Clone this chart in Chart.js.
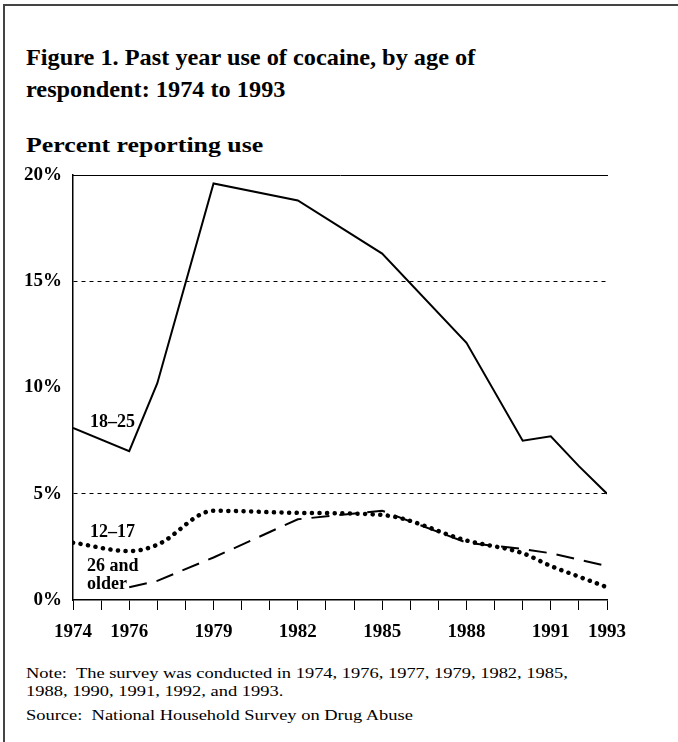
<!DOCTYPE html>
<html>
<head>
<meta charset="utf-8">
<script src="https://cdn.jsdelivr.net/npm/chart.js@4"></script>
<style>
  html, body { margin: 0; padding: 0; background: #fff; }
  body { width: 678px; height: 742px; position: relative; overflow: hidden; font-family: "Liberation Serif", "Times New Roman", serif; color: #000; }
  .frame { position: absolute; left: 3px; top: 4px; width: 690px; height: 750px; border-left: 2px solid #444; border-top: 2px solid #444; }
  .wide { transform-origin: 0 0; white-space: nowrap; }
  .title { position: absolute; left: 26px; top: 42px; font-size: 22.5px; font-weight: bold; line-height: 32px; transform: scaleX(1.08); }
  .subtitle { position: absolute; left: 26px; top: 133px; font-size: 21px; font-weight: bold; transform: scaleX(1.23); }
  .wrap { position: absolute; left: 0; top: 150px; width: 678px; height: 500px; }
  .tag { position: absolute; font-size: 18px; font-weight: bold; line-height: 17px; }
  .note { position: absolute; left: 26px; font-size: 15px; line-height: 18px; transform: scaleX(1.23); }
</style>
</head>
<body>
<div class="frame"></div>
<div class="title wide">Figure 1. Past year use of cocaine, by age of<br>respondent: 1974 to 1993</div>
<div class="subtitle wide">Percent reporting use</div>
<div class="wrap"><canvas id="chart"></canvas></div>
<div class="tag" style="left:90px; top:413px;">18–25</div>
<div class="tag" style="left:90px; top:523px;">12–17</div>
<div class="tag" style="left:87px; top:557px;">26 and</div>
<div class="tag" style="left:87px; top:575px;">older</div>
<div class="note wide" style="top:664px;">Note:&nbsp; The survey was conducted in 1974, 1976, 1977, 1979, 1982, 1985,<br>1988, 1990, 1991, 1992, and 1993.</div>
<div class="note wide" style="top:706px;">Source:&nbsp; National Household Survey on Drug Abuse</div>
<script>
// survey years and values (percent)
const years = [1974, 1976, 1977, 1979, 1982, 1985, 1988, 1990, 1991, 1992, 1993];
const age18to25 = [8.1, 7.0, 10.2, 19.6, 18.8, 16.3, 12.1, 7.5, 7.7, 6.3, 5.0];
const age12to17 = [2.7, 2.3, 2.6, 4.2, 4.1, 4.0, 2.8, 2.2, 1.6, 1.1, 0.6];
const olderYears = [1976, 1977, 1979, 1982, 1985, 1988, 1990, 1991, 1992, 1993];
const age26plus = [0.6, 0.9, 2.0, 3.8, 4.2, 2.7, 2.4, 2.2, 1.9, 1.6];
const labelledYears = [1974, 1976, 1979, 1982, 1985, 1988, 1991, 1993];
const dashedGrid = [5, 15];

function points(xs, ys) {
  return xs.map((x, i) => ({ x: x, y: ys[i] }));
}

const tickFont = { family: "Liberation Serif", size: 19, weight: "bold" };

new Chart(document.getElementById("chart"), {
  type: "line",
  data: {
    datasets: [
      {
        label: "18–25",
        data: points(years, age18to25),
        borderColor: "#000",
        borderWidth: 2,
        pointRadius: 0,
        tension: 0,
      },
      {
        label: "12–17",
        data: points(years, age12to17),
        borderColor: "#000",
        borderWidth: 4.5,
        borderDash: [0.1, 7.5],
        borderCapStyle: "round",
        pointRadius: 0,
        cubicInterpolationMode: "monotone",
      },
      {
        label: "26 and older",
        data: points(olderYears, age26plus),
        borderColor: "#000",
        borderWidth: 2,
        borderDash: [18, 10],
        pointRadius: 0,
        tension: 0,
      },
    ],
  },
  options: {
    responsive: true,
    maintainAspectRatio: false,
    animation: false,
    layout: { padding: { left: 0, right: 71, top: 25, bottom: 0 } },
    plugins: { legend: { display: false }, tooltip: { enabled: false } },
    scales: {
      x: {
        type: "linear",
        min: 1974,
        max: 1993,
        afterFit: (scale) => { scale.height = 50; },
        ticks: {
          stepSize: 1,
          autoSkip: false,
          maxRotation: 0,
          padding: 11,
          color: "#000",
          font: tickFont,
          callback: (value) => (labelledYears.includes(value) ? String(value) : ""),
        },
        grid: { drawOnChartArea: false, drawTicks: true, tickLength: 10, tickColor: "#000", tickWidth: 1 },
        border: { display: true, color: "#000", width: 1.5 },
      },
      x2: {
        type: "linear",
        position: "top",
        min: 1974,
        max: 1993,
        afterFit: (scale) => { scale.height = 0; },
        ticks: { display: false },
        grid: { display: false, drawTicks: false },
        border: { display: true, color: "#000", width: 1 },
      },
      y: {
        min: 0,
        max: 20,
        afterFit: (scale) => { scale.width = 73; },
        ticks: {
          stepSize: 5,
          padding: 11,
          color: "#000",
          font: tickFont,
          callback: (value) => value + "%",
        },
        grid: {
          drawTicks: false,
          lineWidth: 1,
          color: (ctx) => (dashedGrid.includes(ctx.tick && ctx.tick.value) ? "#000" : "rgba(0,0,0,0)"),
        },
        border: { display: true, color: "#000", width: 1.5, dash: [4, 4] },
      },
    },
  },
});
</script>
</body>
</html>
